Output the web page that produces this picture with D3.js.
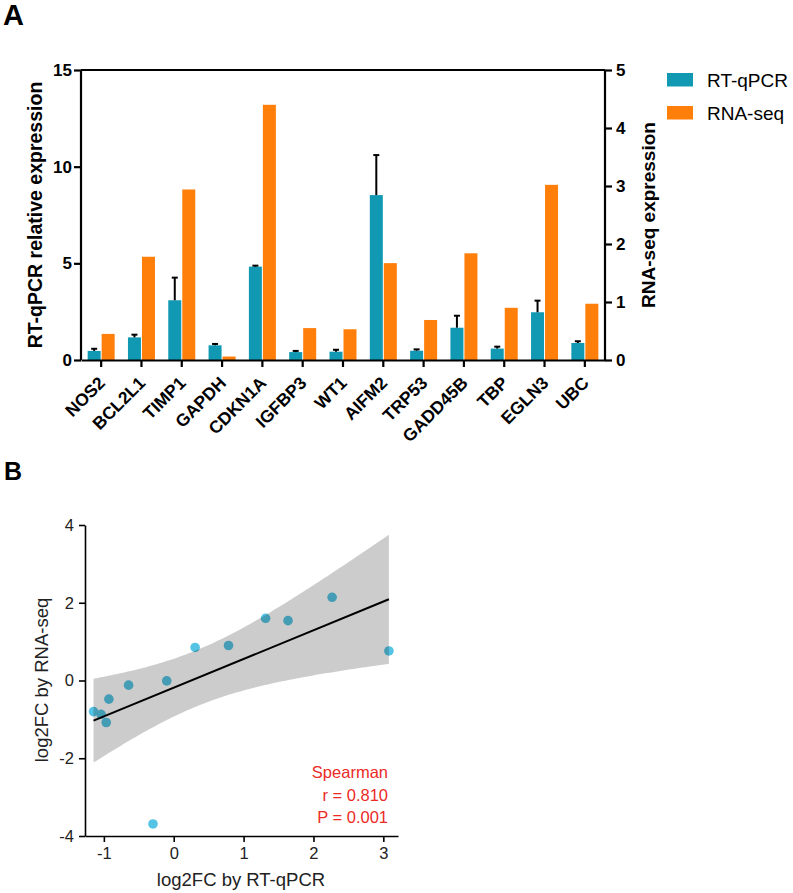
<!DOCTYPE html>
<html>
<head>
<meta charset="utf-8">
<script src="https://cdn.jsdelivr.net/npm/d3@7"></script>
<style>
  body { margin: 0; background: #fff; }
  svg { display: block; font-family: Arial, "Liberation Sans", sans-serif; }
</style>
</head>
<body>
<script>
'use strict';

// panel A data
const genes = ['NOS2', 'BCL2L1', 'TIMP1', 'GAPDH', 'CDKN1A', 'IGFBP3', 'WT1', 'AIFM2', 'TRP53', 'GADD45B', 'TBP', 'EGLN3', 'UBC'];
const rtqpcr = [0.47, 1.17, 3.09, 0.76, 4.83, 0.41, 0.43, 8.53, 0.48, 1.67, 0.59, 2.47, 0.88];
const rtqpcrErr = [0.11, 0.14, 1.17, 0.07, 0.05, 0.06, 0.10, 2.07, 0.07, 0.62, 0.10, 0.60, 0.09];
const rnaseq = [0.45, 1.78, 2.94, 0.06, 4.40, 0.55, 0.53, 1.67, 0.69, 1.84, 0.90, 3.02, 0.97];
const leftTicks = [0, 5, 10, 15];
const rightTicks = [0, 1, 2, 3, 4, 5];

// panel B data
const fcRtqpcr = [-1.148, -1.04, -0.966, -0.928, -0.646, -0.10, 0.306, 0.784, 1.315, 1.636, 2.267, 3.08, -0.297];
const fcRnaseq = [-0.80, -0.87, -1.08, -0.48, -0.12, -0.01, 0.85, 0.90, 1.60, 1.54, 2.14, 0.76, -3.69];
const xTicksB = [-1, 0, 1, 2, 3];
const yTicksB = [-4, -2, 0, 2, 4];
const statLines = ['Spearman', 'r = 0.810', 'P = 0.001'];

const teal = '#1199b4';
const orange = '#ff7f0a';

const svg = d3.select('body').append('svg')
  .attr('width', 793)
  .attr('height', 893);

// ---------- panel A ----------
svg.append('text')
  .attr('x', 3).attr('y', 25)
  .style('font-size', '29px').style('font-weight', 'bold')
  .text('A');

const a = { left: 81, right: 605, top: 70, bottom: 360 };

const x = d3.scaleBand()
  .domain(genes)
  .range([a.left, a.right]);

const yLeft = d3.scaleLinear().domain([0, 15]).range([a.bottom, a.top]);
const yRight = d3.scaleLinear().domain([0, 5]).range([a.bottom, a.top]);

const barW = 13;
const cx = g => x(g) + x.bandwidth() / 2;

const bars = svg.append('g');
bars.selectAll('rect.rt')
  .data(genes)
  .enter().append('rect')
  .attr('class', 'rt')
  .attr('x', g => cx(g) - barW - 0.5)
  .attr('width', barW)
  .attr('y', (g, i) => yLeft(rtqpcr[i]))
  .attr('height', (g, i) => a.bottom - yLeft(rtqpcr[i]))
  .attr('fill', teal);

bars.selectAll('rect.rna')
  .data(genes)
  .enter().append('rect')
  .attr('class', 'rna')
  .attr('x', g => cx(g) + 0.5)
  .attr('width', barW)
  .attr('y', (g, i) => yRight(rnaseq[i]))
  .attr('height', (g, i) => a.bottom - yRight(rnaseq[i]))
  .attr('fill', orange);

// error bars (upper only)
const err = svg.append('g').attr('stroke', '#000').attr('stroke-width', 2);
genes.forEach((g, i) => {
  const ex = cx(g) - barW / 2 - 0.5;
  const top = yLeft(rtqpcr[i] + rtqpcrErr[i]);
  err.append('line')
    .attr('x1', ex).attr('x2', ex)
    .attr('y1', yLeft(rtqpcr[i])).attr('y2', top);
  err.append('line')
    .attr('x1', ex - 3).attr('x2', ex + 3)
    .attr('y1', top).attr('y2', top);
});

// axes
const leftAxis = svg.append('g')
  .attr('transform', `translate(${a.left},0)`)
  .call(d3.axisLeft(yLeft).tickValues(leftTicks).tickFormat(d3.format('d')).tickSize(7).tickPadding(2));
const rightAxis = svg.append('g')
  .attr('transform', `translate(${a.right},0)`)
  .call(d3.axisRight(yRight).tickValues(rightTicks).tickFormat(d3.format('d')).tickSize(7).tickPadding(4));
const bottomAxis = svg.append('g')
  .attr('transform', `translate(0,${a.bottom})`)
  .call(d3.axisBottom(x).tickSize(7).tickSizeOuter(0).tickFormat(''));

[leftAxis, rightAxis, bottomAxis].forEach(ax => {
  ax.select('.domain').attr('stroke', '#000').attr('stroke-width', 2.2);
  ax.selectAll('.tick line').attr('stroke', '#000').attr('stroke-width', 2.2);
  ax.selectAll('text')
    .attr('fill', '#000')
    .style('font-size', '17px')
    .style('font-weight', 'bold')
    .style('font-family', 'Arial, "Liberation Sans", sans-serif');
});
leftAxis.select('.domain').attr('d', `M0,${a.top}V${a.bottom}`);
rightAxis.select('.domain').attr('d', `M0,${a.top}V${a.bottom}`);

// top frame line
svg.append('line')
  .attr('x1', a.left).attr('x2', a.right)
  .attr('y1', a.top).attr('y2', a.top)
  .attr('stroke', '#000').attr('stroke-width', 2.2);

// gene labels
svg.append('g').selectAll('text')
  .data(genes)
  .enter().append('text')
  .attr('transform', g => `translate(${cx(g) + 5},${a.bottom + 24}) rotate(-45)`)
  .attr('text-anchor', 'end')
  .style('font-size', '17.5px')
  .style('font-weight', 'bold')
  .text(g => g);

svg.append('text')
  .attr('transform', `translate(42,215) rotate(-90)`)
  .attr('text-anchor', 'middle')
  .style('font-size', '19.5px').style('font-weight', 'bold')
  .text('RT-qPCR relative expression');

svg.append('text')
  .attr('transform', `translate(655,215) rotate(-90)`)
  .attr('text-anchor', 'middle')
  .style('font-size', '19px').style('font-weight', 'bold')
  .text('RNA-seq expression');

// legend
const legend = svg.append('g').attr('transform', 'translate(667,73)');
[['RT-qPCR', teal], ['RNA-seq', orange]].forEach(([label, color], i) => {
  legend.append('rect')
    .attr('x', 0).attr('y', i * 33)
    .attr('width', 26).attr('height', 13.5)
    .attr('fill', color);
  legend.append('text')
    .attr('x', 40).attr('y', i * 33 + 14)
    .style('font-size', '19px')
    .text(label);
});

// ---------- panel B ----------
svg.append('text')
  .attr('x', 4).attr('y', 480)
  .style('font-size', '25px').style('font-weight', 'bold')
  .text('B');

const bx = d3.scaleLinear().domain([-1.27, 3.21]).range([85, 398]);
const by = d3.scaleLinear().domain([-4, 4]).range([836, 525]);

// linear fit + 95% confidence band
const n = fcRtqpcr.length;
const mx = d3.mean(fcRtqpcr), my = d3.mean(fcRnaseq);
const sxx = d3.sum(fcRtqpcr, v => (v - mx) * (v - mx));
const sxy = d3.sum(fcRtqpcr, (v, i) => (v - mx) * (fcRnaseq[i] - my));
const slope = sxy / sxx;
const icept = my - slope * mx;
const fit = v => icept + slope * v;
const sse = d3.sum(fcRtqpcr, (v, i) => Math.pow(fcRnaseq[i] - fit(v), 2));
const se = Math.sqrt(sse / (n - 2));
const tCrit = 2.201; // t(0.975, df = 11)
const half = v => tCrit * se * Math.sqrt(1 / n + (v - mx) * (v - mx) / sxx);

const [xMin, xMax] = d3.extent(fcRtqpcr);
const bandX = d3.range(0, 101).map(k => xMin + (xMax - xMin) * k / 100);

// points first, band drawn over them (darkens overlapping points)
svg.append('g').selectAll('circle')
  .data(fcRtqpcr)
  .enter().append('circle')
  .attr('cx', v => bx(v))
  .attr('cy', (v, i) => by(fcRnaseq[i]))
  .attr('r', 4.8)
  .attr('fill', '#55c3e3');

svg.append('path')
  .datum(bandX)
  .attr('fill', '#000')
  .attr('fill-opacity', 0.2)
  .attr('d', d3.area()
    .x(v => bx(v))
    .y0(v => by(fit(v) - half(v)))
    .y1(v => by(fit(v) + half(v))));

svg.append('line')
  .attr('x1', bx(xMin)).attr('y1', by(fit(xMin)))
  .attr('x2', bx(xMax)).attr('y2', by(fit(xMax)))
  .attr('stroke', '#000').attr('stroke-width', 2);

const bxAxis = svg.append('g')
  .attr('transform', 'translate(0,836)')
  .call(d3.axisBottom(bx).tickValues(xTicksB).tickFormat(d => String(d)).tickSize(6).tickSizeOuter(0).tickPadding(5));
const byAxis = svg.append('g')
  .attr('transform', 'translate(85,0)')
  .call(d3.axisLeft(by).tickValues(yTicksB).tickFormat(d => String(d)).tickSize(6).tickSizeOuter(0).tickPadding(5));

[bxAxis, byAxis].forEach(ax => {
  ax.select('.domain').attr('stroke', '#000').attr('stroke-width', 1.6);
  ax.selectAll('.tick line').attr('stroke', '#000').attr('stroke-width', 1.6);
  ax.selectAll('text')
    .attr('fill', '#222')
    .style('font-size', '16.5px')
    .style('font-family', 'Arial, "Liberation Sans", sans-serif');
});

svg.append('text')
  .attr('x', 241).attr('y', 886)
  .attr('text-anchor', 'middle')
  .style('font-size', '18.5px').attr('fill', '#222')
  .text('log2FC by RT-qPCR');

svg.append('text')
  .attr('transform', 'translate(48,680) rotate(-90)')
  .attr('text-anchor', 'middle')
  .style('font-size', '18.5px').attr('fill', '#222')
  .text('log2FC by RNA-seq');

svg.append('g').selectAll('text')
  .data(statLines)
  .enter().append('text')
  .attr('x', 388)
  .attr('y', (d, i) => 778 + i * 22.5)
  .attr('text-anchor', 'end')
  .attr('fill', '#ec2a26')
  .style('font-size', '16.5px')
  .text(d => d);
</script>
</body>
</html>
